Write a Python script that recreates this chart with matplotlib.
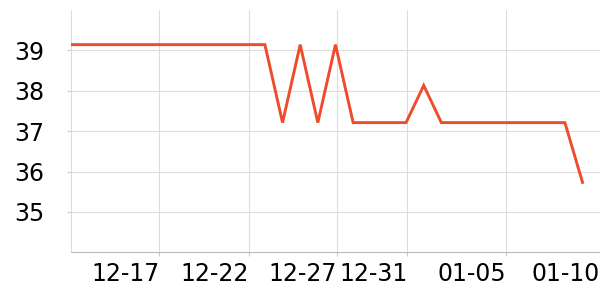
import matplotlib
matplotlib.use("Agg")
import matplotlib.pyplot as plt

# daily readings, 12-12 .. 01-10
values = [39.14] * 12 + [37.21, 39.14, 37.21, 39.14, 37.21, 37.21, 37.21, 37.21,
          38.13, 37.21, 37.21, 37.21, 37.21, 37.21, 37.21, 37.21, 37.21, 35.73]
days = list(range(len(values)))

tick_labels = ["12-17", "12-22", "12-27", "12-31", "01-05", "01-10"]
tick_pos = [5.02, 10.08, 15.07, 19.07, 24.68, 29.98]
y_ticks = [35, 36, 37, 38, 39]

fig = plt.figure(figsize=(6, 3), dpi=100)
ax = fig.add_axes([0.118, 0.159, 0.882, 0.808])

ax.plot(days, values, color="#ef4b2d", lw=2.1, solid_joinstyle="miter", zorder=3)

ax.set_ylim(34, 40)
ax.set_xlim(0, 29.99)
ax.set_yticks(y_ticks)
ax.set_yticklabels([str(t) for t in y_ticks])
ax.set_xticks(tick_pos)
ax.set_xticklabels(tick_labels, ha="right")

ax.grid(True, color="#dddddd", lw=0.8)
ax.set_axisbelow(True)
for s in ["top", "right"]:
    ax.spines[s].set_visible(False)
ax.spines["left"].set_color("#dddddd")
ax.spines["bottom"].set_color("#bbbbbb")
ax.spines["left"].set_linewidth(0.8)
ax.spines["bottom"].set_linewidth(0.8)
ax.tick_params(axis="both", colors="#cccccc", labelcolor="black", labelsize=17, length=3)
ax.tick_params(axis="x", pad=4)
ax.tick_params(axis="y", pad=16)

fig.savefig("out.png", dpi=100)
